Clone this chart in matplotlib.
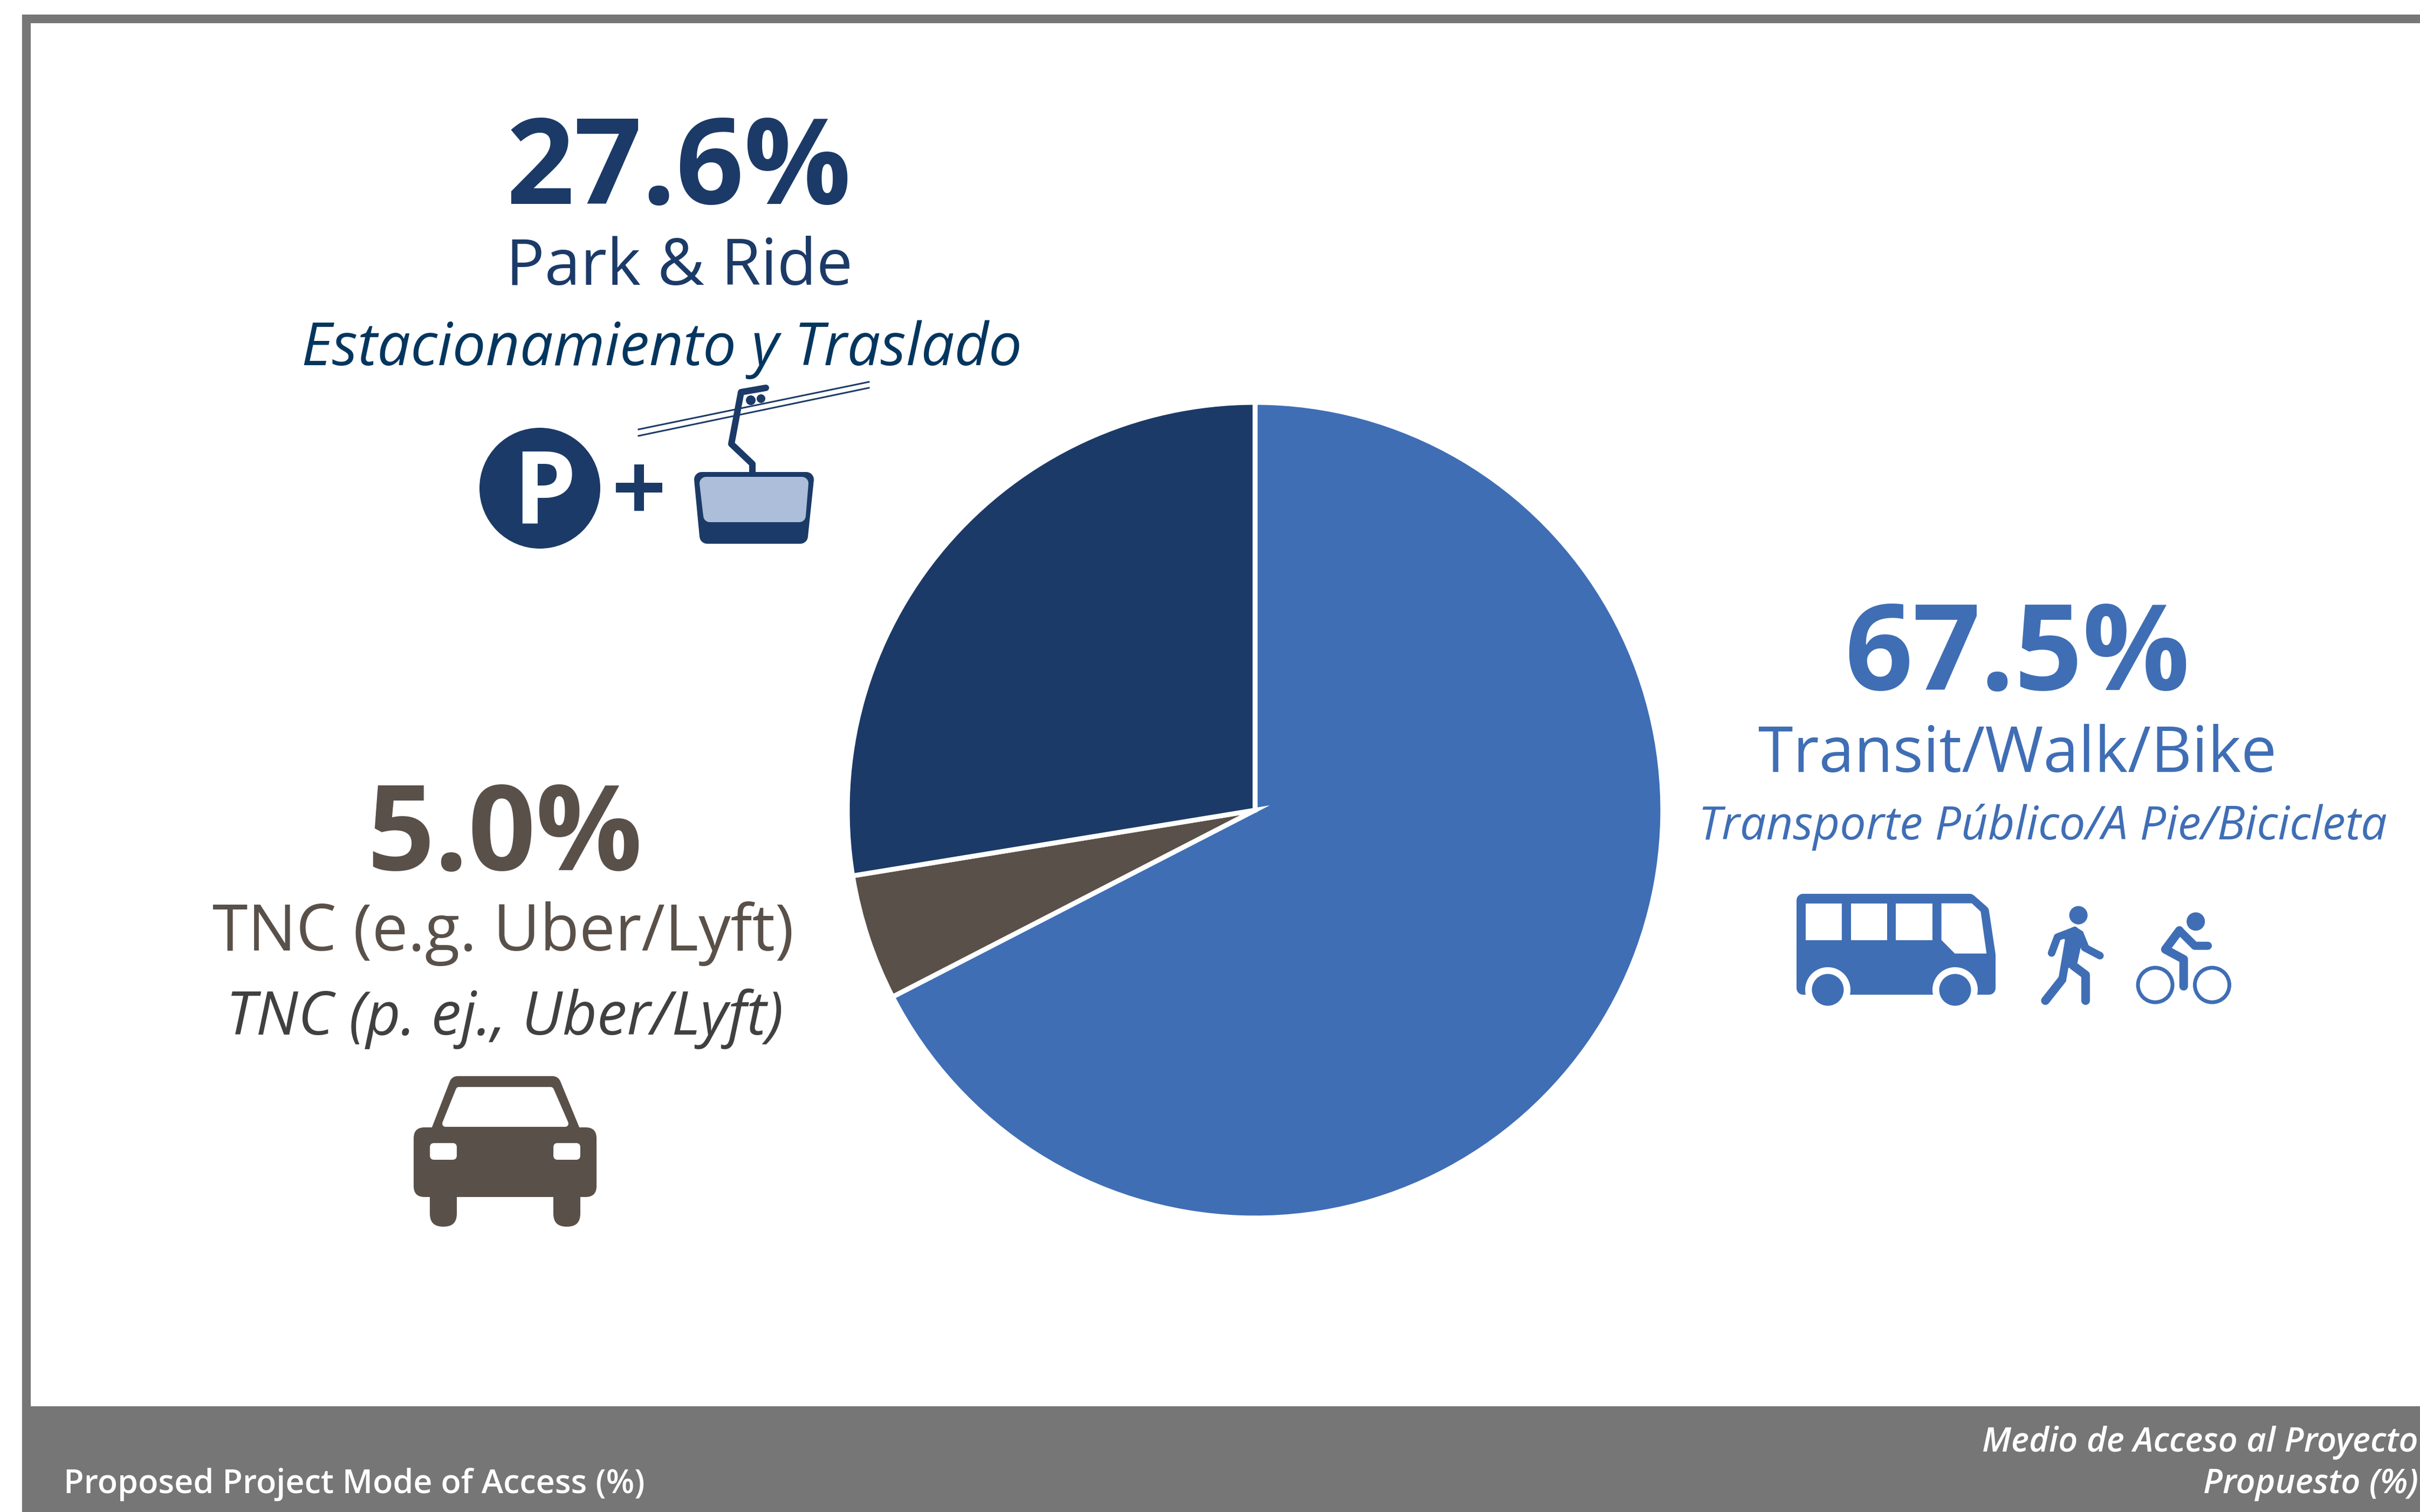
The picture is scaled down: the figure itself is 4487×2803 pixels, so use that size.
import matplotlib
matplotlib.use("Agg")
import matplotlib.pyplot as plt
import matplotlib.patches as patches

WIDTH = 4487
HEIGHT = 2803
DPI = 100
PX = 72 / DPI  # points per output pixel

modes = ["Transit/Walk/Bike", "TNC (e.g. Uber/Lyft)", "Park & Ride"]
modes_es = ["Transporte Público/A Pie/Bicicleta", "TNC (p. ej., Uber/Lyft)", "Estacionamiento y Traslado"]
shares = [67.5, 5.0, 27.6]
share_labels = ["67.5%", "5.0%", "27.6%"]
footer_en = "Proposed Project Mode of Access (%)"
footer_es = ["Medio de Acceso al Proyecto", "Propuesto (%)"]

BLUE = "#3F6EB5"
BROWN = "#595049"
NAVY = "#1B3A67"
GRAY = "#767676"
LIGHT = "#ADBEDA"

plt.rcParams["font.family"] = ["Open Sans", "DejaVu Sans"]

fig = plt.figure(figsize=(WIDTH / DPI, HEIGHT / DPI), dpi=DPI, facecolor="white")

# overlay in image pixels, y going down
ov = fig.add_axes([0, 0, 1, 1])
ov.set_xlim(0, WIDTH)
ov.set_ylim(HEIGHT, 0)
ov.axis("off")

# pie, the white edge eats a few pixels of the radius
cx, cy, r = 2327, 1502, 756
pie_ax = fig.add_axes([(cx - r) / WIDTH, 1 - (cy + r) / HEIGHT, 2 * r / WIDTH, 2 * r / HEIGHT])
pie_ax.pie(shares, colors=[BLUE, BROWN, NAVY], startangle=90, counterclock=False, radius=1,
           wedgeprops={"edgecolor": "white", "linewidth": 9 * PX})
pie_ax.set_xlim(-1, 1)
pie_ax.set_ylim(-1, 1)


def poly(points, color, **kw):
    ov.add_patch(patches.Polygon(points, closed=True, facecolor=color, edgecolor="none", **kw))


# polygon with rounded corners: points are inset by rad, the edge puts it back
def round_poly(points, rad, color):
    ov.add_patch(patches.Polygon(points, closed=True, facecolor=color, edgecolor=color,
                                 linewidth=2 * rad * PX, joinstyle="round"))


def rbox(x0, y0, x1, y1, rad, color):
    ov.add_patch(patches.FancyBboxPatch((x0 + rad, y0 + rad), x1 - x0 - 2 * rad, y1 - y0 - 2 * rad,
                                        boxstyle=f"round,pad={rad},rounding_size={rad}",
                                        facecolor=color, edgecolor="none"))


def circle(x, y, rad, color, **kw):
    ov.add_patch(patches.Circle((x, y), rad, facecolor=color, edgecolor="none", **kw))


def stroke(points, color, width):
    xs = [p[0] for p in points]
    ys = [p[1] for p in points]
    ov.plot(xs, ys, color=color, lw=width * PX, solid_capstyle="round", solid_joinstyle="round")


# frame and footer band
ov.add_patch(patches.Rectangle((41, 27), WIDTH - 41, 16, facecolor=GRAY, edgecolor="none"))
ov.add_patch(patches.Rectangle((41, 27), 16, HEIGHT - 27, facecolor=GRAY, edgecolor="none"))
ov.add_patch(patches.Rectangle((41, 2607), WIDTH - 41, HEIGHT - 2607, facecolor=GRAY, edgecolor="none"))

# labels: percent, English, Spanish
ov.text(1259, 378, share_labels[2], color=NAVY, fontsize=159, fontweight="bold", ha="center", va="baseline")
ov.text(1259, 528, modes[2], color=NAVY, fontsize=86, ha="center", va="baseline")
ov.text(1227, 677, modes_es[2], color="#03365F", fontsize=79, style="italic", ha="center", va="baseline")

ov.text(3740, 1279, share_labels[0], color=BLUE, fontsize=159, fontweight="bold", ha="center", va="baseline")
ov.text(3741, 1431, modes[0], color=BLUE, fontsize=84.5, ha="center", va="baseline")
ov.text(3787, 1556, modes_es[0], color=BLUE, fontsize=62, style="italic", ha="center", va="baseline")

ov.text(936, 1613, share_labels[1], color=BROWN, fontsize=158, fontweight="bold", ha="center", va="baseline")
ov.text(933, 1762, modes[1], color=BROWN, fontsize=85.6, ha="center", va="baseline")
ov.text(936, 1918, modes_es[1], color="#404040", fontsize=80, style="italic", ha="center", va="baseline")

ov.text(118, 2768, footer_en, color="white", fontsize=44, fontweight="semibold", ha="left", va="baseline")
ov.text(4484, 2691, footer_es[0], color="white", fontsize=45.4, style="italic", fontweight="semibold",
        ha="right", va="baseline")
ov.text(4484, 2768, footer_es[1], color="white", fontsize=45.4, style="italic", fontweight="semibold",
        ha="right", va="baseline")

# parking + gondola icon
circle(1001, 905, 112, NAVY, zorder=3)
ov.text(1010, 969, "P", color="white", fontsize=134, fontweight="bold", ha="center", va="baseline", zorder=4)
poly([(1176, 861), (1194, 861), (1194, 895), (1228, 895), (1228, 913), (1194, 913), (1194, 947),
      (1176, 947), (1176, 913), (1142, 913), (1142, 895), (1176, 895)], NAVY)
ov.plot([1184, 1611], [796, 708], color=NAVY, lw=3 * PX)
ov.plot([1184, 1611], [808, 719], color=NAVY, lw=3 * PX)
stroke([(1395, 878), (1395, 860), (1356, 823), (1374, 727), (1420, 719)], NAVY, 12)
circle(1392, 742, 9, NAVY)
circle(1411, 739, 8, NAVY)
round_poly([(1301, 889), (1495, 889), (1484, 994), (1311, 994)], 14, NAVY)
round_poly([(1309, 896), (1487, 896), (1482, 956), (1316, 956)], 12, LIGHT)


def bx(X, Y):
    return (3250 + X / 1.65, 1600 + Y / 3)


round_poly([(3343, 1669), (3652, 1669), (3676, 1690), (3688, 1770), (3688, 1832), (3343, 1832)], 12, BLUE)
circle(3389, 1835, 42, "white")
circle(3625, 1835, 42, "white")
ov.add_patch(patches.Rectangle((3340, 1844), 340, 40, facecolor="white", edgecolor="none"))
circle(3389, 1835, 29.5, BLUE)
circle(3625, 1835, 29.5, BLUE)
for x0, x1 in [(162, 272), (300, 411), (438, 549)]:
    ov.add_patch(patches.Rectangle(bx(x0, 224), (x1 - x0) / 1.65, 204 / 3, facecolor="white", edgecolor="none"))
poly([bx(*p) for p in [(577, 224), (670, 224), (697, 270), (715, 503), (618, 503), (577, 428)]], "white")

# walker icon
circle(*bx(996, 290), 17, BLUE)
poly([bx(*p) for p in [(985, 352), (1010, 380), (1030, 470), (1003, 470), (993, 555), (965, 585), (958, 660),
                       (935, 640), (955, 425), (925, 400)]], BLUE)
stroke([bx(985, 375), bx(932, 412), bx(914, 500)], BLUE, 14)
stroke([bx(1015, 470), bx(1062, 515)], BLUE, 14)
stroke([bx(945, 650), bx(895, 765)], BLUE, 16)
stroke([bx(980, 570), bx(1018, 622), bx(1018, 765)], BLUE, 16)

# cyclist icon
circle(*bx(1355, 325), 17, BLUE)
for X in [1231, 1405]:
    cen = bx(X, 678)
    ov.add_patch(patches.Circle(cen, 32, facecolor="none", edgecolor=BLUE, linewidth=7 * PX))
stroke([bx(1305, 375), bx(1262, 480), bx(1318, 535), bx(1318, 685)], BLUE, 16)
stroke([bx(1305, 375), bx(1352, 460), bx(1392, 460)], BLUE, 15)

# car icon
round_poly([(815, 2095), (848, 2010), (1025, 2010), (1060, 2095)], 15, BROWN)
rbox(767, 2090, 1106, 2219, 20, BROWN)
rbox(797, 2190, 847, 2274, 24, BROWN)
rbox(1026, 2190, 1076, 2274, 24, BROWN)
rbox(797, 2119, 847, 2150, 8, "white")
rbox(1026, 2119, 1076, 2150, 8, "white")
round_poly([(826, 2083), (851, 2021), (1021, 2021), (1048, 2083)], 6, "white")

fig.savefig("out.png", dpi=DPI, facecolor="white")
